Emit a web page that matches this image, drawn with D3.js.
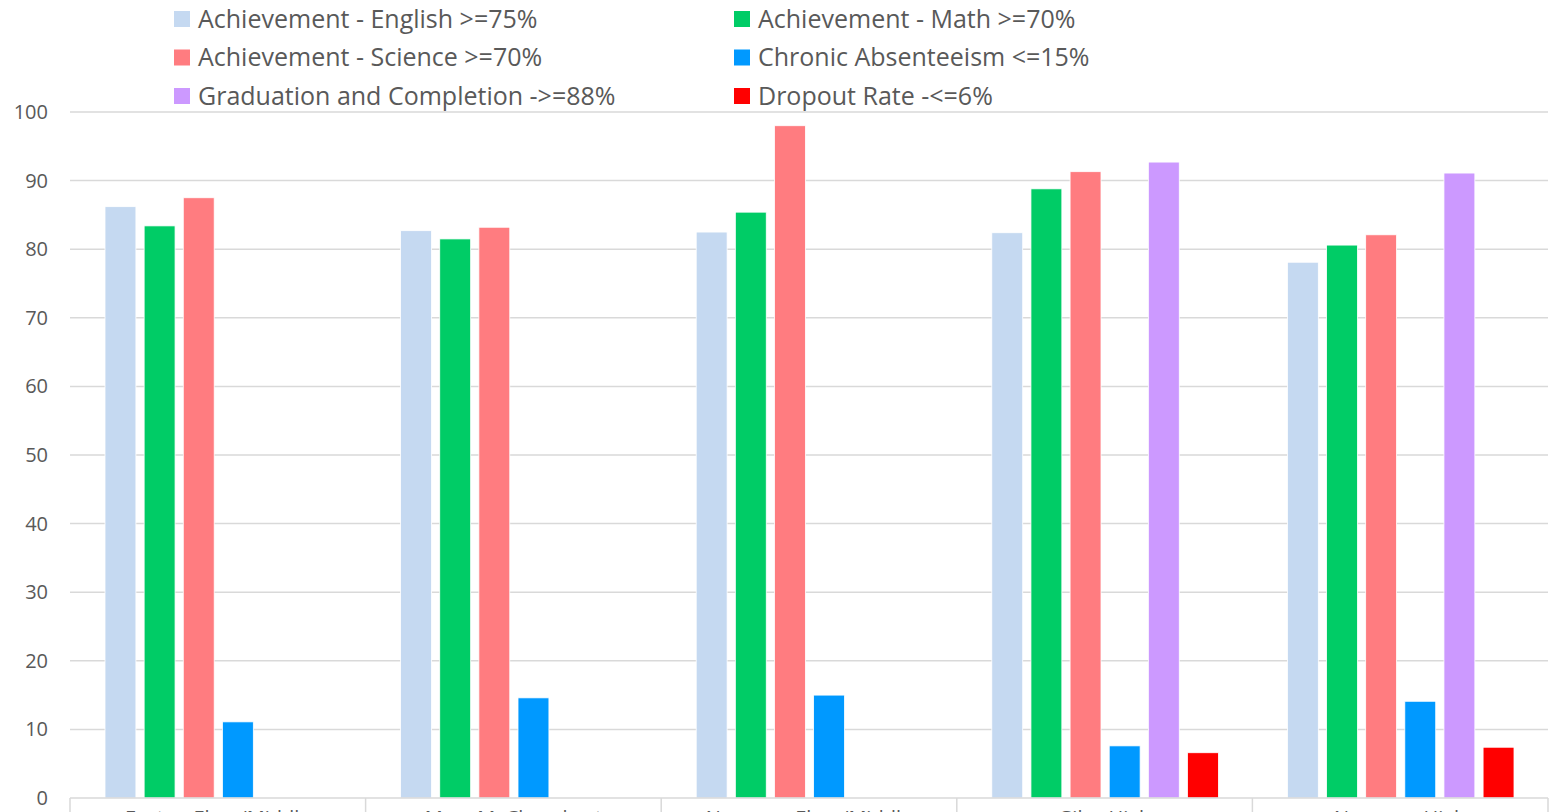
<!DOCTYPE html>
<html>
<head>
<meta charset="utf-8">
<script src="https://cdn.jsdelivr.net/npm/d3@7"></script>
<style>
  body { margin: 0; background: #fff; overflow: hidden; }
  text { font-family: "Open Sans", "Noto Sans", sans-serif; fill: #595959; }
</style>
</head>
<body>
<script>
// chart data
const schools = ['Easton Elem/Middle', 'Mary M. Chesebrot', 'Norcross Elem/Middle', 'Giles High', 'Norcross High'];
const seriesNames = [
    'Achievement - English >=75%',
    'Achievement - Math >=70%',
    'Achievement - Science >=70%',
    'Chronic Absenteeism <=15%',
    'Graduation and Completion ->=88%',
    'Dropout Rate -<=6%'
];
const seriesColors = ['#c5d9f1', '#00cc66', '#ff7c80', '#0099ff', '#cc99ff', '#ff0000'];
const english = [86.2, 82.7, 82.5, 82.4, 78.1];
const math = [83.4, 81.5, 85.4, 88.8, 80.6];
const science = [87.5, 83.2, 98.0, 91.3, 82.1];
const absent = [11.1, 14.6, 15.0, 7.6, 14.1];
const graduation = [null, null, null, 92.7, 91.1];
const dropout = [null, null, null, 6.6, 7.4];
const yTicks = [0, 10, 20, 30, 40, 50, 60, 70, 80, 90, 100];

const allSeries = [english, math, science, absent, graduation, dropout];

const width = 1554, height = 812;
const margin = { top: 112, left: 70, right: 6, bottom: 14 };

const svg = d3.select('body').append('svg')
    .attr('width', width)
    .attr('height', height);

const y = d3.scaleLinear()
    .domain([0, 100])
    .range([height - margin.bottom, margin.top]);

const x0 = d3.scaleBand()
    .domain(schools)
    .range([margin.left, width - margin.right])
    .padding(0);

// each cluster keeps room for all six series
const x1 = d3.scaleBand()
    .domain(d3.range(seriesNames.length))
    .range([35, x0.bandwidth() - 34])
    .paddingInner(0.21);

// gridlines
svg.append('g')
    .selectAll('line')
    .data(yTicks.filter(t => t > 0))
    .enter()
  .append('line')
    .attr('x1', margin.left)
    .attr('x2', width - margin.right)
    .attr('y1', d => y(d))
    .attr('y2', d => y(d))
    .attr('stroke', '#d9d9d9')
    .attr('stroke-width', 1.5);

// y tick labels
svg.append('g')
    .selectAll('text')
    .data(yTicks)
    .enter()
  .append('text')
    .attr('x', 48)
    .attr('y', d => y(d))
    .attr('dy', '0.35em')
    .attr('text-anchor', 'end')
    .style('font-size', '20px')
    .text(d => d);

// bars
const bars = [];
schools.forEach((s, i) => {
    allSeries.forEach((vals, j) => {
        if (vals[i] != null) bars.push({ school: s, k: j, value: vals[i] });
    });
});

svg.append('g')
    .selectAll('rect')
    .data(bars)
    .enter()
  .append('rect')
    .attr('x', d => x0(d.school) + x1(d.k))
    .attr('width', x1.bandwidth())
    .attr('y', d => y(d.value))
    .attr('height', d => y(0) - y(d.value))
    .attr('fill', d => seriesColors[d.k])
    .attr('stroke', '#fff')
    .attr('stroke-width', 0.8);

// category axis
const axisY = y(0);
svg.append('line')
    .attr('x1', margin.left)
    .attr('x2', width - margin.right)
    .attr('y1', axisY)
    .attr('y2', axisY)
    .attr('stroke', '#d9d9d9')
    .attr('stroke-width', 1.5);

const bounds = schools.map(s => x0(s)).concat([x0.range()[1]]);
svg.append('g')
    .selectAll('line')
    .data(bounds)
    .enter()
  .append('line')
    .attr('x1', d => d)
    .attr('x2', d => d)
    .attr('y1', axisY)
    .attr('y2', height + 10)
    .attr('stroke', '#d9d9d9')
    .attr('stroke-width', 1.5);

// school names sit mostly below the bottom edge, as in the source
svg.append('g')
    .selectAll('text')
    .data(schools)
    .enter()
  .append('text')
    .attr('x', d => x0(d) + x0.bandwidth() / 2)
    .attr('y', 825)
    .attr('text-anchor', 'middle')
    .style('font-size', '20px')
    .text(d => d);

// legend, two columns of three rows
const legend = svg.append('g')
    .selectAll('g')
    .data(seriesNames)
    .enter()
  .append('g')
    .attr('transform', (d, i) => {
        const col = i % 2, row = Math.floor(i / 2);
        return 'translate(' + (col == 0 ? 174 : 734) + ',' + (19 + row * 38.5) + ')';
    });

legend.append('rect')
    .attr('x', 0)
    .attr('y', -8)
    .attr('width', 16)
    .attr('height', 16)
    .attr('fill', (d, i) => seriesColors[i]);

legend.append('text')
    .attr('x', 24)
    .attr('y', 0)
    .attr('dy', '0.35em')
    .style('font-size', '25px')
    .text(d => d);
</script>
</body>
</html>
